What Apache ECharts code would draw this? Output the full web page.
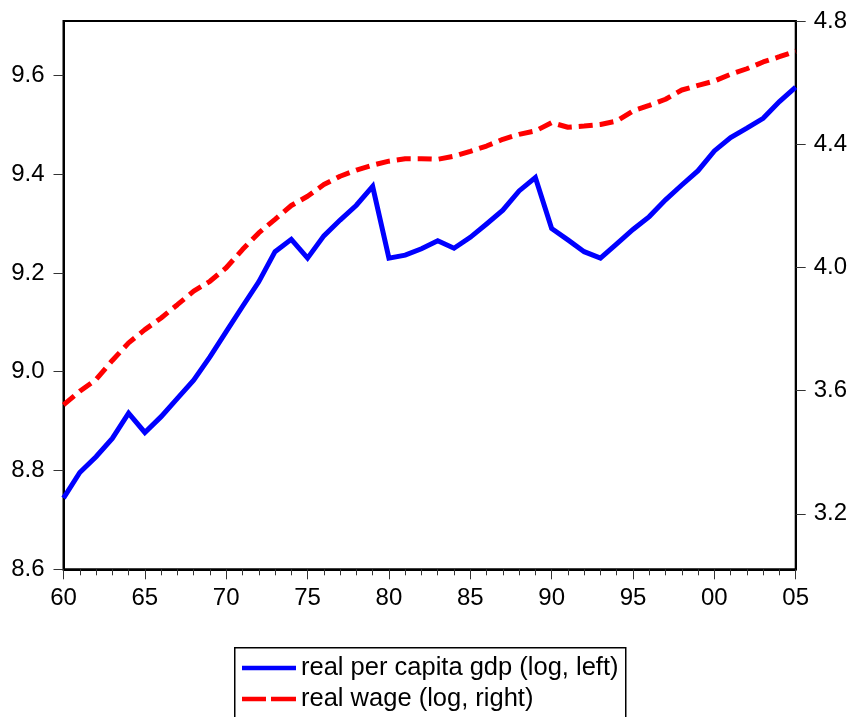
<!DOCTYPE html>
<html>
<head>
<meta charset="utf-8">
<script src="https://cdn.jsdelivr.net/npm/echarts@6/dist/echarts.min.js"></script>
<style>
html,body{margin:0;padding:0;background:#fff;}
#chart{width:856px;height:717px;}
</style>
</head>
<body>
<div id="chart"></div>
<script>
const years = [1960,1961,1962,1963,1964,1965,1966,1967,1968,1969,1970,1971,1972,1973,1974,1975,1976,1977,1978,1979,1980,1981,1982,1983,1984,1985,1986,1987,1988,1989,1990,1991,1992,1993,1994,1995,1996,1997,1998,1999,2000,2001,2002,2003,2004,2005];
const gdp = [8.744,8.796,8.828,8.865,8.916,8.877,8.909,8.946,8.983,9.030,9.081,9.132,9.182,9.243,9.268,9.230,9.275,9.307,9.337,9.375,9.230,9.236,9.249,9.265,9.250,9.272,9.299,9.327,9.366,9.393,9.290,9.267,9.243,9.230,9.259,9.288,9.314,9.348,9.378,9.407,9.447,9.474,9.493,9.513,9.547,9.576];
const wage = [3.554,3.598,3.636,3.698,3.755,3.798,3.836,3.879,3.923,3.955,3.999,4.058,4.112,4.156,4.201,4.231,4.269,4.296,4.316,4.332,4.345,4.353,4.353,4.351,4.361,4.377,4.394,4.416,4.432,4.443,4.470,4.455,4.459,4.464,4.475,4.508,4.526,4.546,4.576,4.591,4.605,4.627,4.645,4.667,4.684,4.702];
const leftTicks = [8.6,8.8,9.0,9.2,9.4,9.6];
const rightTicks = [3.2,3.6,4.0,4.4,4.8];
const seriesNames = ['real per capita gdp (log, left)','real wage (log, right)'];

const FONT = '"Liberation Sans", Arial, sans-serif';
const chart = echarts.init(document.getElementById('chart'), null, {renderer:'canvas'});
chart.setOption({
  animation:false,
  backgroundColor:'#fff',
  grid:{left:63.5, right:60.3, top:21, bottom:147.7, show:true, borderColor:'#000', borderWidth:2, containLabel:false},
  xAxis:{
    type:'value', min:1960, max:2005, interval:5,
    axisLine:{show:true, lineStyle:{color:'#000', width:2}},
    axisTick:{show:true, length:10, inside:false, lineStyle:{color:'#333', width:1}},
    minorTick:{show:true, splitNumber:5, length:6, lineStyle:{color:'#333', width:1}},
    splitLine:{show:false},
    axisLabel:{margin:17, fontSize:24, color:'#000', fontFamily:FONT, formatter:v=>String(v).slice(2)}
  },
  yAxis:[
    {type:'value', position:'left', min:8.6, max:9.71,
     axisLine:{show:true, lineStyle:{color:'#000', width:2}},
     axisTick:{show:true, length:10, customValues:leftTicks, lineStyle:{color:'#333', width:1}},
     splitLine:{show:false},
     axisLabel:{margin:19, fontSize:24, color:'#000', fontFamily:FONT, customValues:leftTicks, formatter:v=>v.toFixed(1)}
    },
    {type:'value', position:'right', min:3.02, max:4.8,
     axisLine:{show:true, lineStyle:{color:'#000', width:2}},
     axisTick:{show:true, length:10, customValues:rightTicks, lineStyle:{color:'#333', width:1}},
     splitLine:{show:false},
     axisLabel:{margin:18, fontSize:24, color:'#000', fontFamily:FONT, customValues:rightTicks, formatter:v=>v.toFixed(1)}
    }
  ],
  graphic:[
    {type:'rect', left:234, top:647, z:-1, silent:true,
     shape:{width:391, height:90}, style:{fill:'#fff', stroke:'#000', lineWidth:1.5}}
  ],
  legend:{
    orient:'vertical', left:242, top:655, height:120,
    padding:0, itemGap:5, itemWidth:54, itemHeight:24,
    textStyle:{fontSize:25.5, color:'#000', fontFamily:FONT},
    data:[
      {name:seriesNames[0], icon:'path://M0,10 L54,10 L54,14.5 L0,14.5 Z', itemStyle:{color:'#0000ff'}},
      {name:seriesNames[1], icon:'path://M0,10 L24,10 L24,14.5 L0,14.5 Z M29,10 L54,10 L54,14.5 L29,14.5 Z', itemStyle:{color:'#ff0000'}}
    ]
  },
  series:[
    {name:seriesNames[0], type:'line', yAxisIndex:0, symbol:'none', showSymbol:false,
     lineStyle:{color:'#0000ff', width:5, join:'miter'}, itemStyle:{color:'#0000ff'},
     data:years.map((y,i)=>[y,gdp[i]])},
    {name:seriesNames[1], type:'line', yAxisIndex:1, symbol:'none', showSymbol:false,
     lineStyle:{color:'#ff0000', width:5, type:[14,7]}, itemStyle:{color:'#ff0000'},
     data:years.map((y,i)=>[y,wage[i]])}
  ]
});
</script>
</body>
</html>
